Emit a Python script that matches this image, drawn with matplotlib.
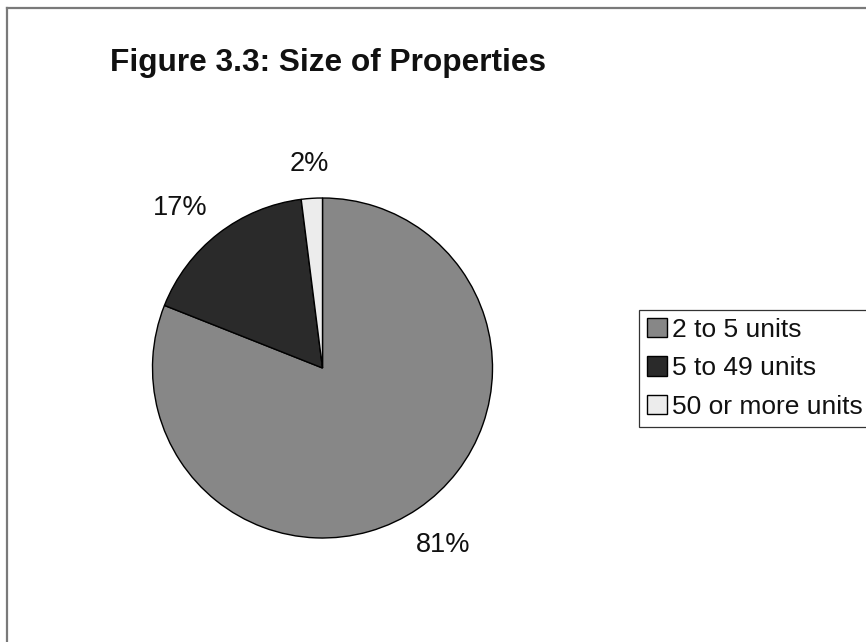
import matplotlib.pyplot as plt
import numpy as np
from matplotlib.lines import Line2D

plt.rcParams["font.family"] = ["Liberation Sans", "DejaVu Sans"]

# data
categories = ["2 to 5 units", "5 to 49 units", "50 or more units"]
shares = [81, 17, 2]
colors = ["#878787", "#2a2a2a", "#ececec"]
# label placement: radial distance and small angle nudge (deg)
label_dist = [1.26, 1.26, 1.20]
label_nudge = [0, 4, 0]

W, H = 866, 642
fig = plt.figure(figsize=(W / 100, H / 100), dpi=100)

# frame lines along top and left edge
fig.add_artist(Line2D([7 / W, 1.0], [1 - 8 / H, 1 - 8 / H],
                      transform=fig.transFigure, color="#7a7a7a", lw=1.6))
fig.add_artist(Line2D([7 / W, 7 / W], [0.0, 1 - 8 / H],
                      transform=fig.transFigure, color="#7a7a7a", lw=1.6))

fig.text(110 / W, 1 - 71 / H, "Figure 3.3: Size of Properties",
         fontsize=22.8, fontweight="bold", ha="left", va="baseline",
         color="#111111")

# pie axes: centre (322, 368), radius 170 px
cx, cy, r = 322.5, 368, 170
ax = fig.add_axes([(cx - r) / W, 1 - (cy + r) / H, 2 * r / W, 2 * r / H])
wedges, _ = ax.pie(shares, colors=colors, startangle=90, counterclock=False,
                   wedgeprops=dict(edgecolor="black", linewidth=1.0))
ax.set_xlim(-1, 1)
ax.set_ylim(-1, 1)
ax.set_aspect("equal")
ax.axis("off")

for w, val, d, nd in zip(wedges, shares, label_dist, label_nudge):
    mid = np.deg2rad((w.theta1 + w.theta2) / 2 + nd)
    ax.text(d * np.cos(mid), d * np.sin(mid), f"{val}%", fontsize=19.5,
            ha="center", va="center", color="#111111")

leg = fig.legend(wedges, categories, loc="upper left",
                 bbox_to_anchor=(639 / W, 1 - 310 / H), fontsize=19,
                 frameon=True, fancybox=False, edgecolor="black",
                 handlelength=0.75, handleheight=0.75, handletextpad=0.2,
                 labelspacing=0.545, borderpad=0.3, borderaxespad=0)
leg.get_frame().set_linewidth(0.9)
for t in leg.get_texts():
    t.set_color("#111111")

fig.savefig("out.png", dpi=100, facecolor="white")
